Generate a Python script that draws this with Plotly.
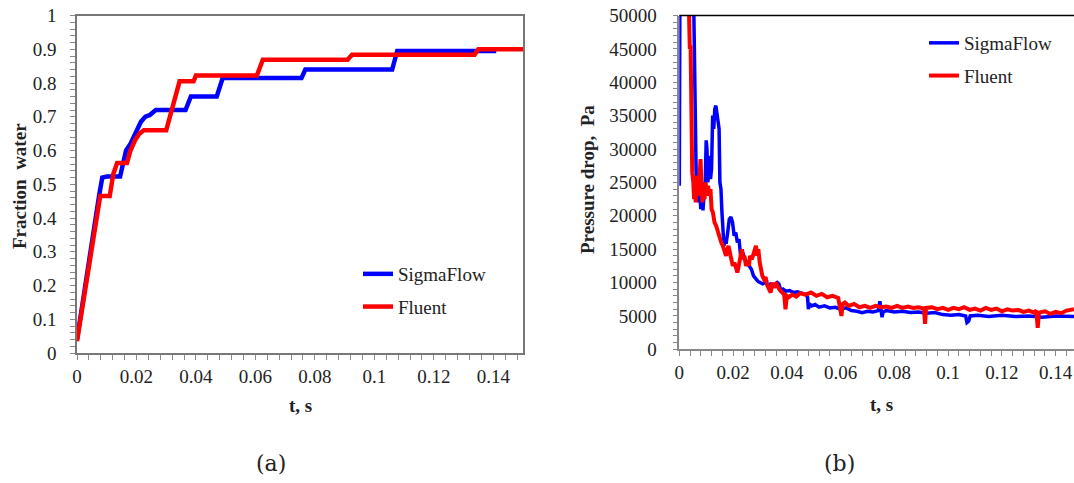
import plotly.graph_objects as go

# ---------------- data: (a) fraction water ----------------
sf_frac_t = [0.0000, 0.0030, 0.0060, 0.0075, 0.0085, 0.0100, 0.0145, 0.0155, 0.0165, 0.0180,
             0.0198, 0.0215, 0.0230, 0.0245, 0.0265, 0.0365, 0.0383, 0.0470, 0.0490, 0.0755,
             0.0768, 0.1060, 0.1077, 0.1410]
sf_frac_v = [0.040, 0.220, 0.400, 0.470, 0.520, 0.523, 0.523, 0.560, 0.600, 0.620,
             0.650, 0.685, 0.700, 0.705, 0.720, 0.720, 0.760, 0.760, 0.815, 0.815,
             0.840, 0.840, 0.895, 0.895]

fl_frac_t = [0.0000, 0.0030, 0.0060, 0.0078, 0.0110, 0.0122, 0.0135, 0.0168, 0.0180, 0.0195,
             0.0210, 0.0225, 0.0300, 0.0320, 0.0345, 0.0392, 0.0400, 0.0605, 0.0625, 0.0910,
             0.0925, 0.1337, 0.1350, 0.1500]
fl_frac_v = [0.035, 0.200, 0.380, 0.465, 0.465, 0.530, 0.563, 0.563, 0.600, 0.630,
             0.650, 0.660, 0.660, 0.720, 0.805, 0.805, 0.822, 0.822, 0.869, 0.869,
             0.884, 0.884, 0.900, 0.900]

# ---------------- data: (b) pressure drop ----------------
sf_dp_t = [0.0000, 0.0003, 0.0050, 0.0054, 0.0058, 0.0061, 0.0064, 0.0068, 0.0072, 0.0076,
           0.0080, 0.0084, 0.0088, 0.0092, 0.0096, 0.0100, 0.0103, 0.0106, 0.0110, 0.0113,
           0.0116, 0.0120, 0.0124, 0.0128, 0.0132, 0.0136, 0.0140, 0.0144, 0.0148, 0.0151,
           0.0155, 0.0158, 0.0162, 0.0166, 0.0170, 0.0174, 0.0180, 0.0186, 0.0192, 0.0198,
           0.0204, 0.0210, 0.0216, 0.0222, 0.0228, 0.0236, 0.0244, 0.0252, 0.0260, 0.0268,
           0.0276, 0.0284, 0.0292, 0.0300, 0.0310, 0.0320, 0.0330, 0.0340, 0.0350, 0.0358,
           0.0364, 0.0370, 0.0378, 0.0386, 0.0396, 0.0410, 0.0425, 0.0440, 0.0455, 0.0470,
           0.0477, 0.0480, 0.0484, 0.0492, 0.0505, 0.0520, 0.0540, 0.0560, 0.0580, 0.0600,
           0.0620, 0.0640, 0.0660, 0.0680, 0.0700, 0.0720, 0.0740, 0.0746, 0.0750, 0.0754,
           0.0758, 0.0770, 0.0800, 0.0830, 0.0860, 0.0890, 0.0920, 0.0950, 0.0980, 0.1010,
           0.1040, 0.1065, 0.1070, 0.1076, 0.1082, 0.1110, 0.1150, 0.1200, 0.1250, 0.1300,
           0.1350, 0.1400, 0.1468]
sf_dp_v = [24500, 62000, 62000, 48000, 41000, 30000, 22500, 24000, 22000, 23500,
           21000, 25000, 20800, 23000, 24500, 31300, 30000, 25000, 26500, 29000,
           25500, 27000, 35000, 33000, 36000, 36500, 35500, 34000, 33000, 25000,
           24000, 21000, 18000, 15500, 16500, 15800, 17500, 19500, 19800, 19000,
           17000, 17500, 16000, 16500, 14000, 14500, 13500, 13000, 12500, 12000,
           11000, 10500, 10200, 10000, 9800, 10000, 9600, 9800, 9500, 9800,
           10000, 9800, 8800, 9000, 8700, 8800, 8500, 8600, 8400, 8200,
           7800, 6000, 6800, 6500, 6700, 6300, 6500, 6200, 6300, 6000,
           6200, 5800, 5700, 5500, 5700, 5600, 5800, 7200, 6000, 4800,
           5600, 5800, 5600, 5700, 5500, 5600, 5400, 5500, 5200, 5100,
           5200, 5000, 4000, 4200, 5000, 5100, 4900, 5100, 4900, 5000,
           4800, 5000, 4900]

fl_dp_t = [0.0032, 0.0036, 0.0039, 0.0042, 0.0045, 0.0048, 0.0052, 0.0055, 0.0058, 0.0061,
           0.0064, 0.0067, 0.0070, 0.0073, 0.0077, 0.0079, 0.0082, 0.0086, 0.0090, 0.0094,
           0.0098, 0.0102, 0.0107, 0.0112, 0.0116, 0.0120, 0.0125, 0.0131, 0.0137, 0.0144,
           0.0150, 0.0156, 0.0162, 0.0168, 0.0174, 0.0179, 0.0183, 0.0188, 0.0193, 0.0199,
           0.0205, 0.0211, 0.0216, 0.0221, 0.0226, 0.0233, 0.0238, 0.0242, 0.0248, 0.0254,
           0.0259, 0.0263, 0.0270, 0.0279, 0.0285, 0.0290, 0.0294, 0.0299, 0.0303, 0.0309,
           0.0315, 0.0321, 0.0328, 0.0334, 0.0340, 0.0346, 0.0352, 0.0358, 0.0364, 0.0372,
           0.0383, 0.0390, 0.0395, 0.0400, 0.0407, 0.0420, 0.0435, 0.0450, 0.0469, 0.0490,
           0.0510, 0.0530, 0.0550, 0.0570, 0.0591, 0.0598, 0.0603, 0.0608, 0.0616, 0.0630,
           0.0650, 0.0670, 0.0690, 0.0710, 0.0730, 0.0750, 0.0770, 0.0790, 0.0810, 0.0830,
           0.0850, 0.0870, 0.0890, 0.0910, 0.0914, 0.0918, 0.0940, 0.0960, 0.0980, 0.1000,
           0.1020, 0.1040, 0.1060, 0.1080, 0.1100, 0.1120, 0.1140, 0.1160, 0.1180, 0.1200,
           0.1220, 0.1240, 0.1260, 0.1280, 0.1300, 0.1320, 0.1328, 0.1333, 0.1338, 0.1360,
           0.1380, 0.1400, 0.1420, 0.1440, 0.1468]
fl_dp_v = [58000, 50000, 45000, 45500, 28000, 26500, 25000, 22500, 24000, 22000,
           26000, 24500, 26000, 23000, 27000, 28500, 25000, 22000, 24500, 22500,
           25000, 23000, 24500, 23000, 24000, 21000, 20500, 19000, 18500, 17500,
           17000, 16000, 15500, 14500, 14000, 15000, 15500, 14500, 13500, 12500,
           13000, 12000, 11500, 12500, 14000, 15000, 13500, 14000, 12500, 13000,
           12500, 14000, 13500, 14500, 15500, 14000, 15000, 13000, 12000, 11000,
           10500, 10800, 9500, 9000, 8500, 10000, 9200, 10000, 9500, 9000,
           8500, 8200, 6000, 8000, 7800, 8200, 7900, 8400, 8200, 8500,
           8000, 8300, 7800, 8000, 7700, 6500, 5000, 6800, 7000, 6500,
           6800, 6300, 6500, 6200, 6500, 6300, 6400, 6200, 6500, 6200,
           6400, 6200, 6300, 6100, 3800, 6200, 6300, 6000, 6200, 5900,
           6200, 6000, 6300, 5900, 6100, 5800, 6200, 5900, 6100, 5700,
           6000, 5800, 5900, 5600, 5800, 5500, 5800, 3200, 5500, 5700,
           5300, 5600, 5400, 5800, 6000]

x_ticks = [0, 0.02, 0.04, 0.06, 0.08, 0.1, 0.12, 0.14]
x_tick_text = ["0", "0.02", "0.04", "0.06", "0.08", "0.1", "0.12", "0.14"]
frac_ticks = [0, 0.1, 0.2, 0.3, 0.4, 0.5, 0.6, 0.7, 0.8, 0.9, 1]
frac_tick_text = ["0", "0.1", "0.2", "0.3", "0.4", "0.5", "0.6", "0.7", "0.8", "0.9", "1"]
dp_ticks = [0, 5000, 10000, 15000, 20000, 25000, 30000, 35000, 40000, 45000, 50000]
dp_tick_text = [str(v) for v in dp_ticks]

BLUE = "#0000FF"
RED = "#FF0000"
SERIF = "Liberation Serif, Times New Roman, serif"
W, H = 1074, 483

fig = go.Figure()
fig.add_trace(go.Scatter(x=sf_frac_t, y=sf_frac_v, mode="lines", name="SigmaFlow",
                         line=dict(color=BLUE, width=4.5), xaxis="x", yaxis="y",
                         legend="legend", legendgroup="a1"))
fig.add_trace(go.Scatter(x=fl_frac_t, y=fl_frac_v, mode="lines", name="Fluent",
                         line=dict(color=RED, width=4.5), xaxis="x", yaxis="y",
                         legend="legend", legendgroup="a2"))
fig.add_trace(go.Scatter(x=sf_dp_t, y=sf_dp_v, mode="lines", name="SigmaFlow",
                         line=dict(color=BLUE, width=3.5), xaxis="x2", yaxis="y2",
                         legend="legend2", legendgroup="b1"))
fig.add_trace(go.Scatter(x=fl_dp_t, y=fl_dp_v, mode="lines", name="Fluent",
                         line=dict(color=RED, width=4), xaxis="x2", yaxis="y2",
                         legend="legend2", legendgroup="b2"))

tickfont = dict(family=SERIF, size=19, color="#222")
common_x = dict(ticks="outside", ticklen=5, tickcolor="#888", tickwidth=1,
                showgrid=False, zeroline=False, tickfont=tickfont, automargin=False,
                tickvals=x_ticks, ticktext=x_tick_text, ticklabelstandoff=0,
                minor=dict(dtick=0.004, tick0=0, ticks="outside", ticklen=5,
                           tickcolor="#888", tickwidth=1, showgrid=False))

left_x0, left_x1 = 77 / W, 523 / W
ya_bot, ya_top = (H - 353) / H, (H - 15.5) / H
right_x0 = 679.3 / W
yb_bot = (H - 349.3) / H

fig.update_layout(
    width=W, height=H, margin=dict(l=0, r=0, t=0, b=0, autoexpand=False),
    paper_bgcolor="white", plot_bgcolor="white",
    xaxis=dict(domain=[left_x0, left_x1], range=[0, 0.15], anchor="y",
               showline=True, linecolor="#777", linewidth=1.5, mirror=True, **common_x),
    yaxis=dict(domain=[ya_bot, ya_top], range=[0, 1], anchor="x", automargin=False,
               showline=True, linecolor="#777", linewidth=1.5, mirror=True,
               ticks="outside", ticklen=5, tickcolor="#888", tickwidth=1,
               showgrid=False, zeroline=False, tickfont=tickfont,
               tickvals=frac_ticks, ticktext=frac_tick_text, ticklabelstandoff=10,
               minor=dict(dtick=0.02, tick0=0, ticks="outside", ticklen=5,
                          tickcolor="#888", tickwidth=1, showgrid=False)),
    xaxis2=dict(domain=[right_x0, 1.0], range=[0, 0.1468], anchor="y2",
                showline=True, linecolor="#888", linewidth=1.5, mirror=False, **common_x),
    yaxis2=dict(domain=[yb_bot, ya_top], range=[0, 50000], anchor="x2", automargin=False,
                showline=True, linecolor="#888", linewidth=1.5, mirror=False,
                ticks="outside", ticklen=5, tickcolor="#888", tickwidth=1,
                showgrid=False, zeroline=False, tickfont=tickfont,
                tickvals=dp_ticks, ticktext=dp_tick_text, ticklabelstandoff=12,
                minor=dict(dtick=1000, tick0=0, ticks="outside", ticklen=5,
                           tickcolor="#888", tickwidth=1, showgrid=False)),
    legend=dict(x=358 / W, y=1 - 255 / H, xanchor="left", yanchor="top",
                bgcolor="rgba(0,0,0,0)", font=dict(family=SERIF, size=19, color="#222"),
                traceorder="grouped", tracegroupgap=5),
    legend2=dict(x=924 / W, y=1 - 24 / H, xanchor="left", yanchor="top",
                 bgcolor="rgba(0,0,0,0)", font=dict(family=SERIF, size=19, color="#222"),
                 traceorder="grouped", tracegroupgap=5),
    shapes=[dict(type="line", xref="x2 domain", yref="y2 domain", x0=0, x1=1, y0=1, y1=1,
                 line=dict(color="black", width=1.5))],
)

titlefont = dict(family=SERIF, size=19, color="#222")
ann = [
    dict(text="<b>Fraction  water</b>", x=19 / W, y=1 - 186 / H, textangle=-90),
    dict(text="<b>t, s</b>", x=300 / W, y=1 - 405 / H, textangle=0),
    dict(text="<b>Pressure drop,  Pa</b>", x=587 / W, y=1 - 180 / H, textangle=-90),
    dict(text="<b>t, s</b>", x=881 / W, y=1 - 404 / H, textangle=0),
]
for a in ann:
    fig.add_annotation(xref="paper", yref="paper", xanchor="center", yanchor="middle",
                       showarrow=False, font=titlefont, **a)
capfont = dict(family="DejaVu Serif, serif", size=22, color="#222")
fig.add_annotation(text="(a)", x=271 / W, y=1 - 463 / H, xref="paper", yref="paper",
                   xanchor="center", yanchor="middle", showarrow=False, font=capfont)
fig.add_annotation(text="(b)", x=839 / W, y=1 - 463 / H, xref="paper", yref="paper",
                   xanchor="center", yanchor="middle", showarrow=False, font=capfont)

fig.write_html("out.html", config={"displayModeBar": False},
               post_script="document.body.style.margin='0';document.body.style.padding='0';")
